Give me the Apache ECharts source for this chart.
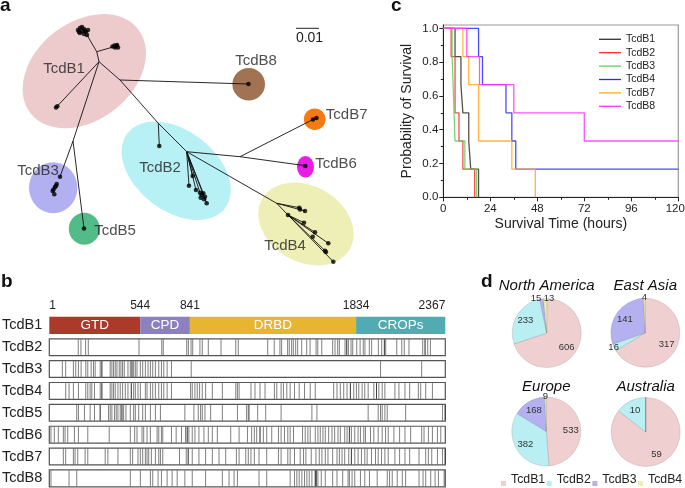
<!DOCTYPE html>
<html><head><meta charset="utf-8">
<script src="https://cdn.jsdelivr.net/npm/echarts@6/dist/echarts.min.js"></script>
<style>html,body{margin:0;padding:0;background:#fff}#c{width:685px;height:488px}</style>
</head><body><div id="c"></div>
<script>
const FONT = '"Liberation Sans", Arial, Helvetica, sans-serif';

// ---------- panel a : phylogenetic tree (tree layout units) ----------
const treeEdges = [
  [87,35, 96.7,51.7], [96.7,51.7, 113,47], [96.7,51.7, 99,61.7],
  [99,61.7, 56.5,107], [99,61.7, 73,141], [73,141, 60,176.7], [73,141, 84,228.5],
  [99,61.7, 120,80], [120,80, 248.5,84], [120,80, 158.3,123.3],
  [158.3,123.3, 159.3,146], [158.3,123.3, 186.7,151.7],
  [186.7,151.7, 240,156.7], [240,156.7, 315.3,118.3], [240,156.7, 305.3,165.7],
  [186.7,151.7, 276.7,203.3], [276.7,203.3, 333.3,261.7],
  [186.7,151.7, 189,185.7], [186.7,151.7, 192.7,176], [186.7,151.7, 196,190],
  [186.7,151.7, 200,192.7], [186.7,151.7, 203.3,193.3], [186.7,151.7, 206.7,203.3],
  [276.7,203.3, 299.3,207.7], [276.7,203.3, 305,211],
  [288,215, 304,222.7], [288,215, 315,232.3], [288,215, 328.3,243.3], [288,215, 325,250.7]
];
const treeLeaves = [
  [78,30],[80,28],[82,31],[84,29],[86,32],[88,30],[80,33],[84,34],[87,35],[82,27],[85,31],[79,32],
  [112.5,46.5],[114.5,45.5],[116.5,46],[118,47.5],[115,47.5],[117,45],
  [56,107.5],[57.3,106.3],
  [60,176.7],[56.7,184],[55,187],[53.5,189.5],[52.7,191],[54.3,194.3],[56,186],
  [84,228.5],[248.5,84],[313,119.5],[316.5,118],[305.3,166],[159.3,146],
  [189,185.7],[192.7,176],[196,190],[200,192.7],[200.7,197.7],[203.3,193.3],[205,196.7],[206.7,203.3],[204,199.3],[201.5,195],
  [299.3,207.7],[300,209.5],[305,211],[288,215],[304,222.7],[315,232.3],[312.7,236.7],[328.3,243.3],[325,250.7],[326,252],[333.3,261.7]
];
const clusterNames = ['TcdB1','TcdB2','TcdB3','TcdB4','TcdB5','TcdB6','TcdB7','TcdB8'];
// [cx, cy, rx, ry, rotation deg]
const clusterShapes = [
  [84.3,71.2,68.3,49,38], [176.2,170.8,61.5,40.2,-37.6], [53.2,187.8,24.2,25.5,0],
  [306,224,50.5,38,-30], [84.3,228.8,15.5,16,0], [305.5,166.8,8.5,10.8,0],
  [314.7,119.2,10.8,10.8,0], [248.7,84.2,16.3,16.3,0]
];
const clusterLabelAt = [[64,68.5],[160,167.5],[38,170.5],[285,246],[115,230.5],[336,163.5],[346.7,114.5],[256,61]];
const scaleBar = [[296,319,28.3,'0.01']];

// ---------- panel b : domains and substitutions ----------
const rowNames = ['TcdB1','TcdB2','TcdB3','TcdB4','TcdB5','TcdB6','TcdB7','TcdB8'];
const domainNames = ['GTD','CPD','DRBD','CROPs'];
const domainBounds = [1,544,841,1834,2367];
const mutB2 = [174,190,218,234,537,673,682,822,832,848,858,901,915,951,1027,1115,1130,1306,1345,1379,1389,1425,1435,1449,1459,1473,1485,1509,1539,1559,1595,1605,1629,1694,1708,1724,1734,1768,1778,1778,1788,1804,1814,1838,1858,1877,1887,1913,1927,1967,1987,2003,2003,2011,2077,2107,2122,2150,2232,2246,2246,2262,2278];
const mutB3 = [79,99,145,159,175,191,219,231,251,265,275,305,315,315,365,375,385,395,405,419,429,439,449,471,485,495,495,505,515,525,545,559,575,591,605,619,635,655,671,685,705,731,849,1980,2226];
const mutB4 = [99,119,145,175,219,231,245,255,271,305,315,315,365,375,385,395,411,425,439,455,471,491,491,505,515,531,545,575,585,605,619,635,655,671,685,705,731,845,855,871,885,899,915,935,975,1035,1115,1125,1135,1206,1230,1260,1290,1346,1360,1386,1400,1420,1440,1466,1494,1526,1560,1590,1700,1720,1740,1760,1780,1800,1800,1820,1836,1850,1870,1886,1906,1940,1956,1956,1970,1990,2006,2066,2090,2126,2154,2206,2220,2250,2290];
const mutB5 = [165,175,211,245,271,305,305,355,365,375,391,401,411,425,435,435,445,459,485,505,515,535,559,575,605,635,665,811,865,891,905,915,931,965,1035,1125,1180,1190,1195,1246,1294,1386,1570,1600,1906,1966,1980,1990,2006,2020,2130,2350,2366];
const mutB6 = [11,31,55,85,95,111,151,175,231,359,485,511,525,555,565,585,605,645,655,671,679,731,759,791,815,825,825,835,855,871,895,925,951,975,1005,1085,1135,1185,1210,1226,1240,1260,1260,1280,1300,1330,1370,1386,1406,1426,1440,1460,1514,1530,1546,1560,1590,1606,1620,1636,1650,1670,1690,1706,1726,1740,1766,1780,1794,1794,1806,1826,1846,1860,1880,1890,1920,1940,1966,1990,2010,2026,2060,2094,2126,2160,2226,2240,2266,2290,2320,2340];
const mutB7 = [85,99,145,155,171,215,231,335,351,411,485,499,531,545,559,575,585,595,611,635,655,665,679,779,819,831,831,855,895,935,975,1015,1055,1119,1135,1175,1190,1206,1226,1254,1300,1370,1386,1426,1440,1466,1500,1520,1534,1566,1594,1614,1630,1650,1666,1694,1720,1734,1750,1766,1790,1806,1806,1826,1846,1866,1886,1900,1926,1950,1966,1986,2006,2026,2066,2094,2126,2154,2210,2250,2266,2286,2320,2350,2366];
const mutB8 = [11,119,165,485,545,605,619,651,671,705,735,765,811,855,935,1035,1075,1105,1125,1254,1300,1440,1466,1480,1494,1510,1526,1540,1554,1570,1590,1590,1596,1596,1606,1626,1650,1694,1720,1754,1786,1794,1810,1826,1860,1886,1914,1960,2020,2034,2050,2080,2110,2130,2210,2234,2250,2280,2306,2326,2360];

// ---------- panel c : survival ----------
const survNames = ['TcdB1','TcdB2','TcdB3','TcdB4','TcdB7','TcdB8'];
const survB1 = [[0,1],[6,5/6],[9,4/6],[10,3/6],[13,2/6],[14,1/6],[18,0]];
const survB2 = [[0,1],[4,5/6],[6,3/6],[8,2/6],[10,1/6],[16,0]];
const survB3 = [[0,1],[4.5,5/6],[5,4/6],[6,2/6],[11,1/6],[17,0]];
const survB4 = [[0,1],[18,5/6],[20,4/6],[32,3/6],[35,2/6],[37,1/6],[120,1/6]];
const survB7 = [[0,1],[10,5/6],[13,4/6],[18,2/6],[35,1/6],[47,0]];
const survB8 = [[0,1],[12,5/6],[18.5,4/6],[36,3/6],[72,2/6],[120,2/6]];
const timeTicks = [0,24,48,72,96,120];
const probTicks = [0,0.2,0.4,0.6,0.8,1.0];

// ---------- panel d : pies ----------
const regionNames = ['North America','East Asia','Europe','Australia'];
const typeNames = ['TcdB1','TcdB2','TcdB3','TcdB4'];
const countsNA = [606,233,15,13];
const countsEA = [317,16,141,4];
const countsEU = [533,382,168,9];
const countsAU = [59,10,0,0];

// ---------- styles ----------
const clusterColors = ['#edcbcc','#b7f0f5','#b3b0f2','#eeefb6','#52bb88','#ea1de8','#f57a12','#a27352'];
const domainColors = ['#ab3a2a','#8c80bf','#e6b630','#52abb1'];
const survColors = ['#333333','#ff2a2a','#5fcf5f','#2b2bff','#ffa81e','#ff33ff'];
const pieColors = ['#f0cfd1','#b9eff3','#b5b1f1','#eeefb4'];
const pieCenters = [[546.7,333],[645.3,332.8],[546.3,431.5],[645.7,432]];
const pieR = 34.5;
const smallShift = {0: {2: -5.5, 3: 4}};

const chart = echarts.init(document.getElementById('c'), null, {renderer: 'canvas'});
const survData = [survB1, survB2, survB3, survB4, survB7, survB8];
const mutRows = [mutB2, mutB3, mutB4, mutB5, mutB6, mutB7, mutB8];
const mutData = [];
mutRows.forEach((arr, i) => arr.forEach(p => mutData.push([p, i + 1])));
const counts = [countsNA, countsEA, countsEU, countsAU];

const series = [];
// panel a
series.push({
  type: 'custom', xAxisIndex: 0, yAxisIndex: 0, silent: true,
  data: clusterShapes,
  renderItem(p, api) {
    const c = api.coord([api.value(0), api.value(1)]);
    const s = api.size([api.value(2), api.value(3)]);
    return {type: 'circle', x: c[0], y: c[1], rotation: api.value(4) * Math.PI / 180,
      scaleX: s[0] / 10, scaleY: s[1] / 10, shape: {cx: 0, cy: 0, r: 10},
      style: {fill: clusterColors[p.dataIndex]}};
  }
});
series.push({
  type: 'custom', xAxisIndex: 0, yAxisIndex: 0, silent: true,
  data: treeEdges,
  renderItem(p, api) {
    const a = api.coord([api.value(0), api.value(1)]);
    const b = api.coord([api.value(2), api.value(3)]);
    return {type: 'line', shape: {x1: a[0], y1: a[1], x2: b[0], y2: b[1]}, style: {stroke: '#111', lineWidth: 0.9}};
  }
});
series.push({
  type: 'scatter', xAxisIndex: 0, yAxisIndex: 0, silent: true,
  data: treeLeaves, symbolSize: 4.6, itemStyle: {color: '#000'}
});
series.push({
  type: 'scatter', xAxisIndex: 0, yAxisIndex: 0, silent: true, symbolSize: 0,
  data: clusterLabelAt.map((d, i) => [d[0], d[1], clusterNames[i]]),
  label: {show: true, position: 'inside', formatter: p => p.data[2], color: '#222', fontSize: 15, fontFamily: FONT}
});
series.push({
  type: 'custom', xAxisIndex: 0, yAxisIndex: 0, silent: true,
  data: scaleBar,
  renderItem(p, api) {
    const a = api.coord([api.value(0), api.value(2)]);
    const b = api.coord([api.value(1), api.value(2)]);
    return {type: 'group', children: [
      {type: 'line', shape: {x1: a[0], y1: a[1], x2: b[0], y2: b[1]}, style: {stroke: '#222', lineWidth: 1}},
      {type: 'text', style: {text: scaleBar[p.dataIndex][3], x: (a[0] + b[0]) / 2 + 2, y: a[1] + 10, align: 'center', verticalAlign: 'middle', fill: '#222', font: '14px ' + FONT}}
    ]};
  }
});
// panel c
survData.forEach((d, i) => {
  series.push({
    name: survNames[i], type: 'line', xAxisIndex: 1, yAxisIndex: 1, step: 'end',
    data: d, symbol: 'none', silent: true,
    lineStyle: {color: survColors[i], width: 1.3, opacity: 0.85}, itemStyle: {color: survColors[i]}
  });
});
// panel b
series.push({
  type: 'custom', xAxisIndex: 2, yAxisIndex: 3, silent: true,
  data: [1, 2, 3, 4, 5, 6, 7].map(r => [domainBounds[0], domainBounds[4], r]),
  renderItem(p, api) {
    const a = api.coord([api.value(0), api.value(2)]);
    const b = api.coord([api.value(1), api.value(2)]);
    const h = api.size([0, 1])[1] * 0.77;
    return {type: 'rect', shape: {x: a[0], y: a[1] - h / 2, width: b[0] - a[0], height: h}, style: {fill: '#fff', stroke: '#555', lineWidth: 1.2}};
  }
});
series.push({
  type: 'custom', xAxisIndex: 2, yAxisIndex: 3, silent: true,
  data: mutData,
  renderItem(p, api) {
    const c = api.coord([api.value(0), api.value(1)]);
    const h = api.size([0, 1])[1] * 0.77;
    return {type: 'line', shape: {x1: c[0], y1: c[1] - h / 2 + 0.6, x2: c[0], y2: c[1] + h / 2 - 0.6}, style: {stroke: 'rgba(0,0,0,0.5)', lineWidth: 1}};
  }
});
series.push({
  type: 'custom', xAxisIndex: 2, yAxisIndex: 3, silent: true,
  data: domainNames.map((n, i) => [domainBounds[i], domainBounds[i + 1], 0]),
  renderItem(p, api) {
    const a = api.coord([api.value(0), api.value(2)]);
    const b = api.coord([api.value(1), api.value(2)]);
    const h = api.size([0, 1])[1] * 0.79;
    return {type: 'group', children: [
      {type: 'rect', shape: {x: a[0], y: a[1] - h / 2, width: b[0] - a[0], height: h}, style: {fill: domainColors[p.dataIndex]}},
      {type: 'text', style: {text: domainNames[p.dataIndex], x: (a[0] + b[0]) / 2, y: a[1], align: 'center', verticalAlign: 'middle', fill: '#fff', font: '13.5px ' + FONT}}
    ]};
  }
});
// panel d pies
counts.forEach((arr, r) => {
  series.push({
    type: 'pie', center: pieCenters[r], radius: [0, pieR], silent: true, startAngle: 90, clockwise: true,
    data: arr.map((v, i) => ({name: 'd-' + typeNames[i], value: v, itemStyle: {color: pieColors[i]}})),
    label: {show: false}, labelLine: {show: false},
    itemStyle: {borderColor: 'rgba(90,90,90,0.3)', borderWidth: 0.6}
  });
});
counts.forEach((arr, r) => {
  const total = arr.reduce((a, b) => a + b, 0);
  [[43, v => v / total >= 0.05], [64, v => v > 0 && v / total < 0.05]].forEach(([rad, test]) => {
    series.push({
      type: 'pie', center: pieCenters[r], radius: [0, rad], silent: true, startAngle: 90, clockwise: true,
      emphasis: {disabled: true}, avoidLabelOverlap: false,
      labelLayout: params => ({hideOverlap: false,
        dx: (rad === 64 && smallShift[r] && smallShift[r][params.dataIndex]) || 0}),
      data: arr.map((v, i) => ({name: 'd-' + typeNames[i], value: v})),
      itemStyle: {color: 'rgba(0,0,0,0)', borderWidth: 0},
      labelLine: {show: false},
      label: {show: true, position: 'inside', formatter: p => test(p.value) ? String(p.value) : '',
        color: '#333', fontSize: 9.5, fontFamily: FONT}
    });
  });
});

const option = {
  animation: false,
  backgroundColor: '#fff',
  textStyle: {fontFamily: FONT},
  grid: [
    {left: 0, top: 0, width: 400, height: 265, outerBoundsMode: 'none'},
    {left: 443.3, top: 25, width: 235, height: 172.3, show: true, borderColor: '#999', borderWidth: 1.2, outerBoundsMode: 'none'},
    {left: 49.3, top: 314.4, width: 396, height: 174.9, outerBoundsMode: 'none'}
  ],
  xAxis: [
    {gridIndex: 0, type: 'value', min: 0, max: 400, show: false},
    {gridIndex: 1, type: 'value', min: 0, max: 120, interval: 24, position: 'bottom',
      name: 'Survival Time (hours)', nameLocation: 'middle', nameGap: 20,
      nameTextStyle: {fontSize: 14, color: '#222', fontFamily: FONT},
      axisLine: {lineStyle: {color: '#222', width: 1}},
      axisTick: {length: 4, lineStyle: {color: '#222'}},
      minorTick: {show: true, splitNumber: 2, length: 2.5, lineStyle: {color: '#222'}},
      splitLine: {show: false},
      axisLabel: {customValues: timeTicks, fontSize: 11.5, color: '#222', margin: 6, fontFamily: FONT,
        formatter: v => v === 120 ? '{r|120}' : String(v),
        rich: {r: {fontSize: 11.5, color: '#222', fontFamily: FONT, padding: [0, 6, 0, 0]}}}},
    {gridIndex: 2, type: 'value', min: 1, max: 2367, position: 'top',
      axisLine: {show: false}, axisTick: {show: false}, splitLine: {show: false},
      axisLabel: {customValues: domainBounds, formatter: v => String(v), alignMinLabel: 'left', alignMaxLabel: 'right', fontSize: 12, color: '#222', margin: 3, fontFamily: FONT}}
  ],
  yAxis: [
    {gridIndex: 0, type: 'value', min: 0, max: 265, inverse: true, show: false},
    {gridIndex: 1, type: 'value', min: 0, max: 1.02, position: 'left',
      name: 'Probability of Survival', nameLocation: 'middle', nameGap: 29,
      nameTextStyle: {fontSize: 14, color: '#222', fontFamily: FONT},
      axisLine: {show: true, lineStyle: {color: '#222', width: 1}},
      axisTick: {show: true, length: 4, customValues: probTicks, lineStyle: {color: '#222'}},
      splitLine: {show: false},
      axisLabel: {customValues: probTicks, formatter: v => v.toFixed(1), fontSize: 11.5, color: '#222', margin: 5, fontFamily: FONT}},
    {gridIndex: 1, type: 'value', min: 0, max: 1.02, position: 'left',
      axisLine: {show: false}, axisLabel: {show: false}, splitLine: {show: false},
      axisTick: {show: true, length: 2.5, customValues: [0.1, 0.3, 0.5, 0.7, 0.9], lineStyle: {color: '#222'}}},
    {gridIndex: 2, type: 'category', data: rowNames, inverse: true,
      axisLine: {show: false}, axisTick: {show: false}, splitLine: {show: false},
      axisLabel: {fontSize: 14.5, color: '#222', margin: 7, fontFamily: FONT}}
  ],
  legend: [
    {data: survNames, orient: 'vertical', left: 599, top: 32.6, itemWidth: 22, itemHeight: 1.3, itemGap: 0,
      icon: 'rect', padding: 0, selectedMode: false, itemStyle: {borderWidth: 0},
      textStyle: {fontSize: 10.5, lineHeight: 13.4, color: '#222', fontFamily: FONT}},
    {data: typeNames.map(n => 'd-' + n), orient: 'horizontal', left: 501, top: 474, itemWidth: 5, itemHeight: 12, itemGap: 1.5,
      icon: 'path://M0,0 M0,7 L5,7 L5,12 L0,12 Z', padding: 0, selectedMode: false, formatter: n => n.replace('d-', ''),
      itemStyle: {borderWidth: 0},
      textStyle: {fontSize: 12.3, lineHeight: 12, color: '#222', fontFamily: FONT}}
  ],
  graphic: [
    {type: 'text', x: 0, y: 5.5, style: {text: 'a', font: 'bold 19px ' + FONT, fill: '#111', verticalAlign: 'middle'}},
    {type: 'text', x: 391, y: 5.5, style: {text: 'c', font: 'bold 19px ' + FONT, fill: '#111', verticalAlign: 'middle'}},
    {type: 'text', x: 1, y: 282, style: {text: 'b', font: 'bold 19px ' + FONT, fill: '#111', verticalAlign: 'middle'}},
    {type: 'text', x: 481, y: 282, style: {text: 'd', font: 'bold 19px ' + FONT, fill: '#111', verticalAlign: 'middle'}}
  ].concat(regionNames.map((n, i) => ({
    type: 'text', x: pieCenters[i][0], y: (i < 2 ? 286 : 387),
    style: {text: n, font: 'italic 15px ' + FONT, fill: '#111', align: 'center', verticalAlign: 'middle'}
  }))),
  series: series
};
chart.setOption(option);
</script></body></html>
